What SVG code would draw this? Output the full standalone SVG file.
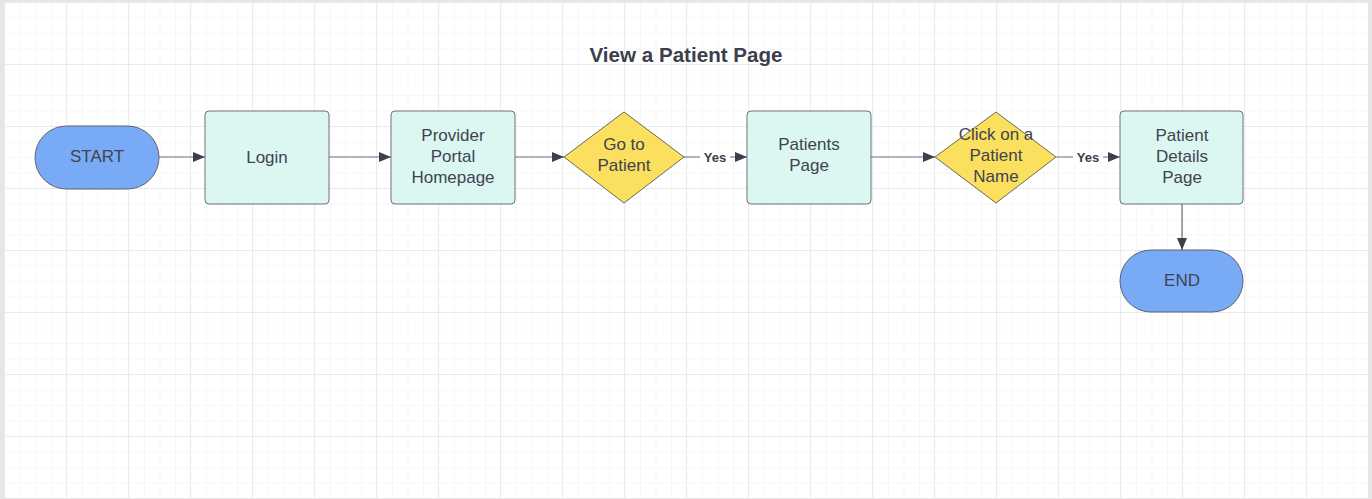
<svg xmlns="http://www.w3.org/2000/svg" width="1372" height="499" viewBox="0 0 1372 499">
<defs>
<pattern id="minor" x="4.5" y="2" width="15.5" height="15.5" patternUnits="userSpaceOnUse">
<path d="M0 0H15.5M0 0V15.5" fill="none" stroke="#efefef" stroke-width="1"/>
</pattern>
<pattern id="major" x="4" y="2" width="62" height="62" patternUnits="userSpaceOnUse">
<path d="M0 0H62M0 0V62" fill="none" stroke="#dedede" stroke-width="1"/>
</pattern>
<marker id="arr" viewBox="0 0 12 10" refX="12" refY="5" markerWidth="12" markerHeight="10" markerUnits="userSpaceOnUse" orient="auto">
<path d="M0 0L12 5L0 10Z" fill="#3b404b"/>
</marker>
</defs>
<style>
.lbl{font-family:"Liberation Sans",Arial,sans-serif;font-size:17px;fill:#3e4450;text-anchor:middle}
.term{fill:#79aaf6;stroke:#5d6370;stroke-width:1}
.proc{fill:#dcf6f2;stroke:#6a707a;stroke-width:1}
.dec{fill:#fbdf5f;stroke:#6a6a5a;stroke-width:1}
.edge{stroke:#6b717b;stroke-width:1.2;fill:none;marker-end:url(#arr)}
.yes{font-family:"Liberation Sans",Arial,sans-serif;font-size:13px;font-weight:bold;fill:#3b404b;text-anchor:middle}
</style>
<rect width="1372" height="499" fill="#e6e6e6"/>
<rect x="4" y="2" width="1364" height="496" fill="#ffffff"/>
<rect x="4" y="2" width="1364" height="496" fill="url(#minor)"/>
<rect x="4" y="2" width="1364" height="496" fill="url(#major)"/>
<text x="686" y="62" font-family="Liberation Sans,Arial,sans-serif" font-size="20.6" font-weight="bold" fill="#3b404b" text-anchor="middle">View a Patient Page</text>
<g id="connectors">
<path class="edge" d="M159 157H205"/>
<path class="edge" d="M329 157H391"/>
<path class="edge" d="M515 157H564"/>
<path class="edge" d="M684 157H747"/>
<path class="edge" d="M871 157H935"/>
<path class="edge" d="M1056 157H1120"/>
<path class="edge" d="M1182 204V250"/>
<rect x="700" y="150" width="30" height="14" fill="#ffffff"/>
<text class="yes" x="715" y="161.5">Yes</text>
<rect x="1073" y="150" width="30" height="14" fill="#ffffff"/>
<text class="yes" x="1088" y="161.5">Yes</text>
</g>
<g id="start">
<rect class="term" x="35" y="126" width="124" height="63" rx="31.5"/>
<text class="lbl" x="97" y="162">START</text>
</g>
<g id="login">
<rect class="proc" x="205" y="111" width="124" height="93" rx="4"/>
<text class="lbl" x="267" y="163">Login</text>
</g>
<g id="provider">
<rect class="proc" x="391" y="111" width="124" height="93" rx="4"/>
<text class="lbl" x="453" y="141">Provider</text>
<text class="lbl" x="453" y="162">Portal</text>
<text class="lbl" x="453" y="183">Homepage</text>
</g>
<g id="goto">
<path class="dec" d="M624 112L684 157L624 203L564 157Z" stroke-linejoin="round"/>
<text class="lbl" x="624" y="150">Go to</text>
<text class="lbl" x="624" y="171">Patient</text>
</g>
<g id="patients">
<rect class="proc" x="747" y="111" width="124" height="93" rx="4"/>
<text class="lbl" x="809" y="150">Patients</text>
<text class="lbl" x="809" y="171">Page</text>
</g>
<g id="click">
<path class="dec" d="M996 112L1056 157L996 203L935 157Z" stroke-linejoin="round"/>
<text class="lbl" x="996" y="140">Click on a</text>
<text class="lbl" x="996" y="161">Patient</text>
<text class="lbl" x="996" y="182">Name</text>
</g>
<g id="details">
<rect class="proc" x="1120" y="111" width="123" height="93" rx="4"/>
<text class="lbl" x="1182" y="141">Patient</text>
<text class="lbl" x="1182" y="162">Details</text>
<text class="lbl" x="1182" y="183">Page</text>
</g>
<g id="end">
<rect class="term" x="1120" y="250" width="123" height="62" rx="31"/>
<text class="lbl" x="1182" y="286">END</text>
</g>
</svg>
